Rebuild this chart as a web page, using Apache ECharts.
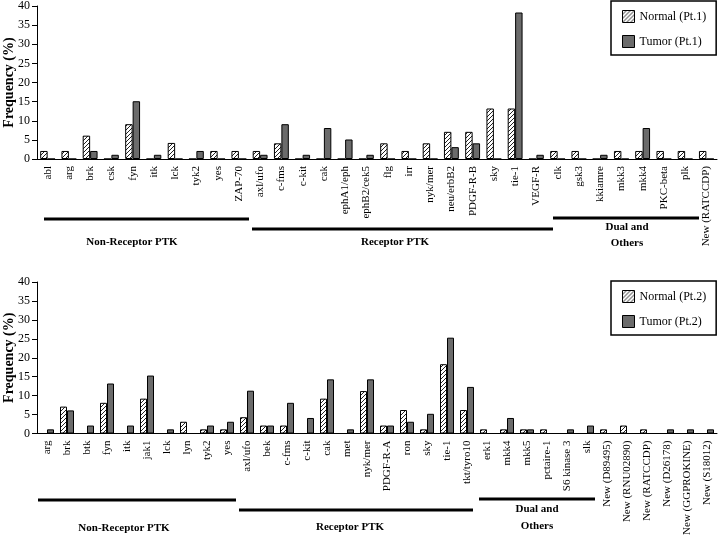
<!DOCTYPE html>
<html>
<head>
<meta charset="utf-8">
<title>PTK frequency, normal vs tumor</title>
<script src="https://cdn.jsdelivr.net/npm/echarts@6.0.0/dist/echarts.min.js"></script>
<style>
  html, body { margin: 0; padding: 0; background: #fff; }
  #chart { width: 720px; height: 542px; }
</style>
</head>
<body>
<div id="chart"></div>
<script>
// patient 1
var cats1 = ['abl', 'arg', 'brk', 'csk', 'fyn', 'itk', 'lck', 'tyk2', 'yes', 'ZAP-70',
  'axl/ufo', 'c-fms', 'c-kit', 'cak', 'ephA1/eph', 'ephB2/cek5', 'flg', 'irr', 'nyk/mer',
  'neu/erbB2', 'PDGF-R-B', 'sky', 'tie-1', 'VEGF-R',
  'clk', 'gsk3', 'kkiamre', 'mkk3', 'mkk4', 'PKC-beta', 'plk', 'New (RATCCDP)'];
var normal1 = [2.1, 2.1, 6.1, 0, 9.1, 0, 4.2, 0, 2.1, 2.1,
  2.1, 4.1, 0, 0, 0, 0, 4.1, 2.1, 4.1, 7.1, 7.1, 13.2, 13.2, 0,
  2.1, 2.1, 0, 2.1, 2.1, 2.1, 2.1, 2.1];
var tumor1 = [0, 0, 2.1, 1.1, 15.1, 1.1, 0, 2.1, 0, 0,
  1.1, 9.1, 1.1, 8.1, 5.1, 1.1, 0, 0, 0, 3.1, 4.1, 0, 38.3, 1.1,
  0, 0, 1.1, 0, 8.1, 0, 0, 0];

// patient 2
var cats2 = ['arg', 'brk', 'btk', 'fyn', 'itk', 'jak1', 'lck', 'lyn', 'tyk2', 'yes',
  'axl/ufo', 'bek', 'c-fms', 'c-kit', 'cak', 'met', 'nyk/mer', 'PDGF-R-A', 'ron', 'sky',
  'tie-1', 'tkt/tyro10',
  'erk1', 'mkk4', 'mkk5', 'pctaire-1', 'S6 kinase 3', 'slk',
  'New (D89495)', 'New (RNU02890)', 'New (RATCCDP)', 'New (D26178)', 'New (GGPROKINE)', 'New (S18012)'];
var normal2 = [0, 7.1, 0, 8.1, 0, 9.2, 0, 3.1, 1.1, 1.1,
  4.3, 2.1, 2.1, 0, 9.2, 0, 11.2, 2.1, 6.2, 1.1, 18.3, 6.2,
  1.1, 1.1, 1.1, 1.1, 0, 0,
  1.1, 2.1, 1.1, 0, 0, 0];
var tumor2 = [1.1, 6.1, 2.1, 13.2, 2.1, 15.3, 1.1, 0, 2.1, 3.1,
  11.3, 2.1, 8.1, 4.1, 14.3, 1.1, 14.3, 2.1, 3.1, 5.2, 25.3, 12.3,
  0, 4.1, 1.1, 0, 1.1, 2.1,
  0, 0, 0, 1.1, 1.1, 1.1];

var yMin = 0, yMax = 40, yStep = 5;

var serif = '"Liberation Serif", "DejaVu Serif", serif';

// diagonal hatch for the normal-tissue bars
function hatch() {
  var c = document.createElement('canvas');
  c.width = 4; c.height = 4;
  var ctx = c.getContext('2d');
  ctx.fillStyle = '#fff';
  ctx.fillRect(0, 0, 4, 4);
  ctx.fillStyle = '#222';
  for (var i = 0; i < 4; i++) ctx.fillRect(i, 3 - i, 1, 1);
  return c;
}
var hatchFill = { image: hatch(), repeat: 'repeat' };

function xAxis(idx, cats) {
  return {
    type: 'category', gridIndex: idx, data: cats,
    axisLine: { lineStyle: { color: '#000', width: 1 } },
    axisTick: { length: 5, lineStyle: { color: '#000' } },
    axisLabel: { rotate: 90, interval: 0, margin: 7, fontSize: 11, color: '#000', fontFamily: serif }
  };
}

function yAxis(idx) {
  return {
    type: 'value', gridIndex: idx, min: yMin, max: yMax, interval: yStep,
    name: 'Frequency (%)', nameLocation: 'middle', nameGap: 21, nameMoveOverlap: false,
    nameTextStyle: { fontSize: 14, fontWeight: 'bold', color: '#000', fontFamily: serif },
    axisLine: { show: true, lineStyle: { color: '#000', width: 1 } },
    axisTick: { show: true, length: 5, lineStyle: { color: '#000' } },
    axisLabel: { margin: 7, fontSize: 12, color: '#000', fontFamily: serif },
    splitLine: { show: false }
  };
}

function bars(name, data, idx, normal) {
  return {
    name: name, type: 'bar', xAxisIndex: idx, yAxisIndex: idx, data: data,
    barWidth: '35%', barGap: '0%',
    itemStyle: { color: normal ? hatchFill : '#6b6b6b', borderColor: '#000', borderWidth: 1 },
    emphasis: { disabled: true }
  };
}

function legend(names, top) {
  return {
    orient: 'vertical', left: 611, top: top, data: names,
    icon: 'rect', itemWidth: 12, itemHeight: 12, itemGap: 12,
    padding: [9, 10, 7, 11],
    borderColor: '#000', borderWidth: 1.5, backgroundColor: '#fff',
    textStyle: { fontSize: 12, color: '#000', fontFamily: serif },
    itemStyle: { borderColor: '#000', borderWidth: 1 },
    selectedMode: false
  };
}

function groupLine(x1, x2, y) {
  return { type: 'line', shape: { x1: x1, y1: y, x2: x2, y2: y }, style: { stroke: '#000', lineWidth: 3 } };
}
function groupText(txt, x, y) {
  return {
    type: 'text', x: x, y: y,
    style: { text: txt, fill: '#000', font: 'bold 11px ' + serif, align: 'center', verticalAlign: 'middle' }
  };
}

var chart = echarts.init(document.getElementById('chart'), null, { renderer: 'canvas' });

var option = {
  animation: false,
  grid: [
    { left: 37, top: 6, width: 680, height: 153, containLabel: false, outerBoundsMode: 'none' },
    { left: 37, top: 282, width: 680, height: 151.5, containLabel: false, outerBoundsMode: 'none' }
  ],
  xAxis: [xAxis(0, cats1), xAxis(1, cats2)],
  yAxis: [yAxis(0), yAxis(1)],
  legend: [
    legend(['Normal (Pt.1)', 'Tumor (Pt.1)'], 1),
    legend(['Normal (Pt.2)', 'Tumor (Pt.2)'], 281)
  ],
  series: [
    bars('Normal (Pt.1)', normal1, 0, true),
    bars('Tumor (Pt.1)', tumor1, 0, false),
    bars('Normal (Pt.2)', normal2, 1, true),
    bars('Tumor (Pt.2)', tumor2, 1, false)
  ],
  graphic: [
    // top panel groups
    groupLine(44, 249, 219),
    groupLine(252, 553, 229),
    groupLine(553, 699, 218),
    groupText('Non-Receptor PTK', 132, 242),
    groupText('Receptor PTK', 395, 242),
    groupText('Dual and', 627, 227),
    groupText('Others', 627, 243),
    // bottom panel groups
    groupLine(38, 236, 500),
    groupLine(239, 473, 510),
    groupLine(479, 595, 499),
    groupText('Non-Receptor PTK', 124, 528),
    groupText('Receptor PTK', 350, 527),
    groupText('Dual and', 537, 509),
    groupText('Others', 537, 526)
  ]
};

chart.setOption(option);
</script>
</body>
</html>
